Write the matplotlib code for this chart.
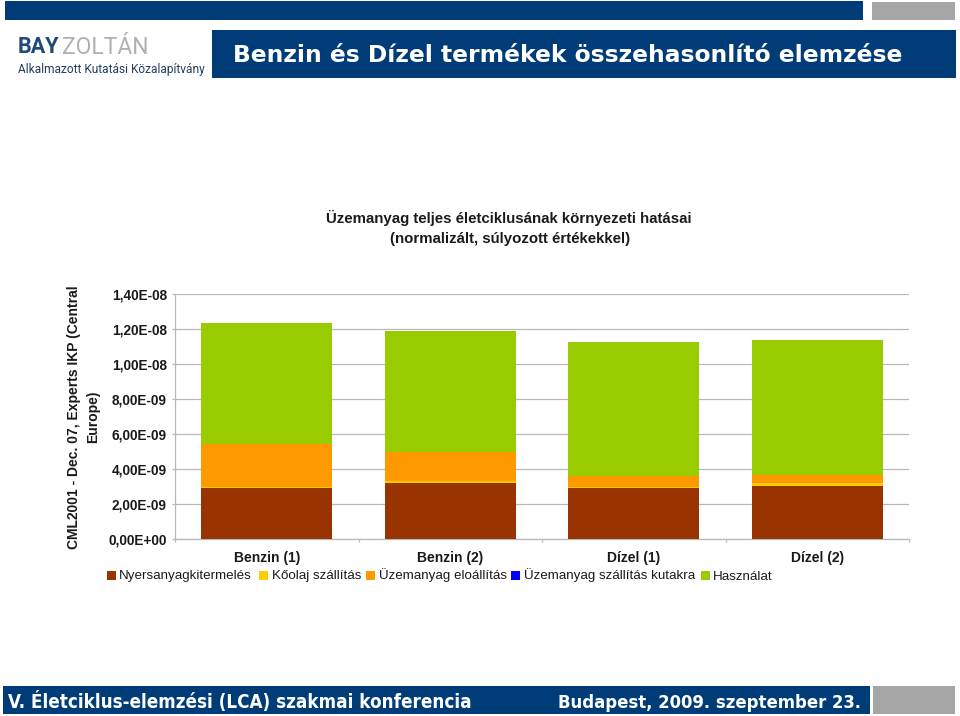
"""Stacked life-cycle impact bars for petrol and diesel, slide layout included."""

import matplotlib
matplotlib.use("Agg")
import matplotlib.pyplot as plt
import numpy as np
from matplotlib import font_manager
from matplotlib.patches import Rectangle

categories = ["Benzin (1)", "Benzin (2)", "Dízel (1)", "Dízel (2)"]
series_names = ["Nyersanyagkitermelés", "Kőolaj szállítás", "Üzemanyag eloállítás",
                "Üzemanyag szállítás kutakra", "Használat"]
raw_material = [2.92e-9, 3.17e-9, 2.91e-9, 3.04e-9]
crude_transport = [0.07e-9, 0.15e-9, 0.08e-9, 0.15e-9]
fuel_production = [2.41e-9, 1.64e-9, 0.60e-9, 0.48e-9]
fuel_transport = [0.0, 0.0, 0.0, 0.0]
use_phase = [6.89e-9, 6.90e-9, 7.67e-9, 7.68e-9]
y_ticks = [0, 2e-9, 4e-9, 6e-9, 8e-9, 1e-8, 1.2e-8, 1.4e-8]
y_labels = ["0,00E+00", "2,00E-09", "4,00E-09", "6,00E-09", "8,00E-09",
            "1,00E-08", "1,20E-08", "1,40E-08"]

COLORS = ["#993300", "#ffcc00", "#ff9900", "#0000ff", "#99cc00"]
NAVY = "#003d78"
GREY = "#a6a6a6"
INK = "#1a1a1a"
LINE = "#b8b8b8"
W, H = 960, 716

CONDENSED = any(f.name == "DejaVu Sans" and f.stretch == "condensed"
                for f in font_manager.fontManager.ttflist)


def px_box(fig, x0, y0, x1, y1, color):
    # slide furniture is placed in pixels measured from the top left
    fig.add_artist(Rectangle((x0 / W, 1 - y1 / H), (x1 - x0) / W, (y1 - y0) / H,
                             transform=fig.transFigure, color=color, lw=0))


def px_text(fig, x, y, text, **kwargs):
    fig.text(x / W, 1 - y / H, text, **kwargs)


fig = plt.figure(figsize=(9.6, 7.16), dpi=100, facecolor="white")

# header and footer
px_box(fig, 5, 1, 863, 20, NAVY)
px_box(fig, 872, 2, 955, 20, GREY)
px_box(fig, 212, 30, 956, 78, NAVY)
px_box(fig, 3, 686, 870, 714, NAVY)
px_box(fig, 873, 686, 955, 714, GREY)
px_text(fig, 233, 55, "Benzin és Dízel termékek összehasonlító elemzése", color="white",
        fontsize=16.85, fontweight="bold", family="DejaVu Sans", ha="left", va="center")
px_text(fig, 18, 47, "BAY", color="#1f4a78", fontsize=15.5, fontweight="bold",
        family="Roboto", ha="left", va="center")
px_text(fig, 62, 47, "ZOLTÁN", color="#b0b0b0", fontsize=16.5, family="Roboto",
        ha="left", va="center")
px_text(fig, 18, 69, "Alkalmazott Kutatási Közalapítvány", color="#1f3f60", fontsize=8.55,
        family="Roboto", ha="left", va="center")
footer_font = dict(color="white", fontweight="bold", family="DejaVu Sans", va="baseline",
                   stretch="condensed" if CONDENSED else "normal")
px_text(fig, 8, 708, "V. Életciklus-elemzési (LCA) szakmai konferencia", ha="left",
        fontsize=13.5 if CONDENSED else 12.2, **footer_font)
px_text(fig, 861, 708, "Budapest, 2009. szeptember 23.", ha="right",
        fontsize=13.2 if CONDENSED else 12, **footer_font)

# chart title and axis title
px_text(fig, 509, 218, "Üzemanyag teljes életciklusának környezeti hatásai", color=INK,
        fontsize=10.8, fontweight="bold", family="Liberation Sans", ha="center", va="center")
px_text(fig, 510, 239, "(normalizált, súlyozott értékekkel)", color=INK,
        fontsize=10.8, fontweight="bold", family="Liberation Sans", ha="center", va="center")
px_text(fig, 74, 417, "CML2001 - Dec. 07, Experts IKP (Central", color=INK, fontsize=10,
        fontweight="bold", family="Liberation Sans", rotation=90, ha="center", va="center")
px_text(fig, 93, 417, "Europe)", color=INK, fontsize=10,
        fontweight="bold", family="Liberation Sans", rotation=90, ha="center", va="center")

ax = fig.add_axes([175 / W, 1 - 539 / H, (909 - 175) / W, (539 - 293.5) / H])
x = np.arange(len(categories))
bottom = np.zeros(len(categories))
all_series = [raw_material, crude_transport, fuel_production, fuel_transport, use_phase]
for values, color, name in zip(all_series, COLORS, series_names):
    ax.bar(x, values, width=0.714, bottom=bottom, color=color, linewidth=0, label=name, zorder=3)
    bottom = bottom + np.asarray(values)

ax.set_xlim(-0.5, 3.5)
ax.set_ylim(0, 1.4e-8)
ax.set_yticks(y_ticks, labels=y_labels, fontsize=9.8, family="Liberation Sans", color=INK,
              fontweight="bold")
ax.set_xticks(np.arange(-0.5, 4, 1), labels=[])
ax.tick_params(axis="y", length=2.2, width=0.9, color=LINE, pad=3.6)
ax.tick_params(axis="x", length=2.2, width=0.9, color=LINE)
ax.grid(axis="y", color=LINE, linewidth=0.9, zorder=0)
ax.set_axisbelow(True)
ax.spines[["top", "right"]].set_visible(False)
ax.spines[["left", "bottom"]].set_color(LINE)
ax.spines[["left", "bottom"]].set_linewidth(0.9)
for pos, name in zip(x, categories):
    ax.annotate(name, (pos, 0), xytext=(0, -13.7), textcoords="offset points", ha="center",
                va="center", fontsize=10, fontweight="bold", family="Liberation Sans", color=INK,
                annotation_clip=False)

# legend entries sit at measured slide positions, so it is laid out by hand
swatch_x = [107, 259, 366, 511, 701]
text_x = [119, 272, 379, 524, 713]
for sx, tx, color, name in zip(swatch_x, text_x, COLORS, series_names):
    px_box(fig, sx, 571, sx + 9, 580, color)
    px_text(fig, tx, 579.5, name, color=INK, fontsize=9.6, family="Liberation Sans",
            ha="left", va="baseline")

fig.savefig("out.png", dpi=100, facecolor="white")
